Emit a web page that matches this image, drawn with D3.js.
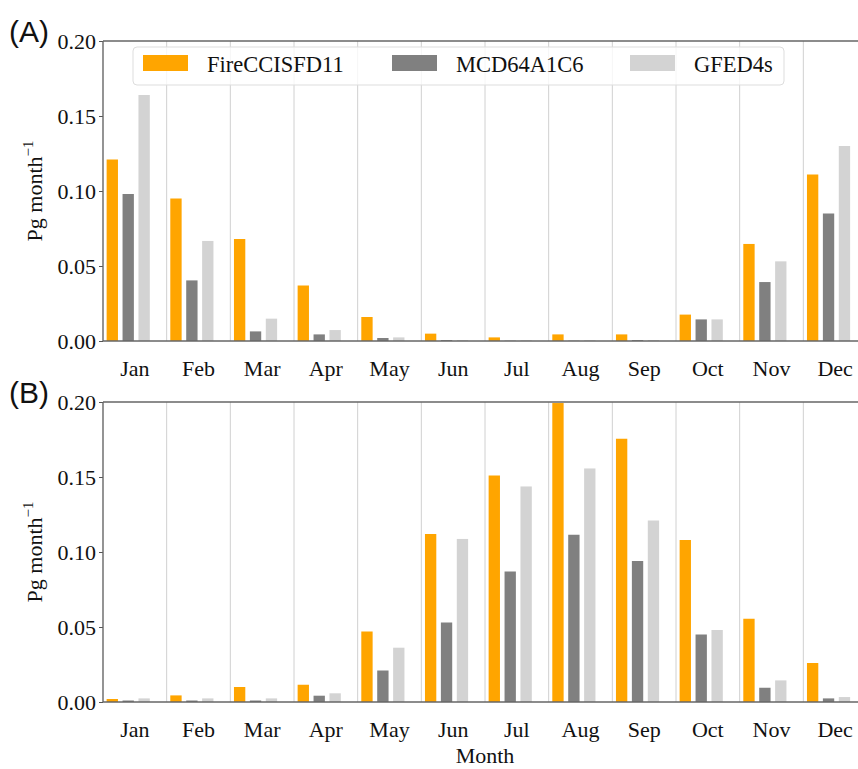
<!DOCTYPE html>
<html><head><meta charset="utf-8">
<script src="https://cdn.jsdelivr.net/npm/d3@7"></script>
<style>body{margin:0;background:#fff;overflow:hidden}svg{display:block}</style>
</head><body>
<svg id="c" width="858" height="769"></svg>
<script>
const months = ["Jan","Feb","Mar","Apr","May","Jun","Jul","Aug","Sep","Oct","Nov","Dec"];
const seriesNames = ["FireCCISFD11","MCD64A1C6","GFED4s"];
const yTicks = [0, 0.05, 0.10, 0.15, 0.20];

// Panel A
const aFire = [0.121, 0.095, 0.068, 0.037, 0.016, 0.0049, 0.0024, 0.0044, 0.0044, 0.0176, 0.0647, 0.111];
const aMcd  = [0.098, 0.0404, 0.0064, 0.0044, 0.002, 0.0006, 0.0002, 0.0002, 0.0006, 0.0144, 0.0393, 0.085];
const aGfed = [0.164, 0.0667, 0.0149, 0.0073, 0.0024, 0.0006, 0.0005, 0.0005, 0.0006, 0.0144, 0.0531, 0.130];
// Panel B
const bFire = [0.002, 0.0044, 0.010, 0.0115, 0.047, 0.112, 0.151, 0.1993, 0.1755, 0.108, 0.0555, 0.026];
const bMcd  = [0.001, 0.001, 0.001, 0.0042, 0.021, 0.053, 0.087, 0.1115, 0.094, 0.045, 0.0095, 0.0024];
const bGfed = [0.0024, 0.0024, 0.0024, 0.0058, 0.0362, 0.1087, 0.1437, 0.1557, 0.121, 0.048, 0.0144, 0.0033];

const colors = ["#FFA500", "#808080", "#D3D3D3"];
const serif = "Liberation Serif";
const sans = "Liberation Sans";
const FS = 22;

const svg = d3.select("#c");
const x = d3.scaleBand().domain(months).range([103, 867]).padding(0);
const bw = x.bandwidth();

function panel(top, bottom, data, label) {
  const y = d3.scaleLinear().domain([0, 0.2]).range([bottom, top]);
  const g = svg.append("g");
  const bounds = months.map(m => x(m)).concat([x.range()[1]]);
  g.selectAll("line.grid").data(bounds).enter().append("line")
    .attr("x1", d => d).attr("x2", d => d).attr("y1", top).attr("y2", bottom)
    .attr("stroke", "#d0d0d0").attr("stroke-width", 1);
  data.forEach((vals, i) => {
    g.selectAll("rect.s" + i).data(vals).enter().append("rect")
      .attr("x", (d, j) => x(months[j]) + bw * (0.057 + i * 0.25))
      .attr("width", bw * 0.178)
      .attr("y", d => y(d))
      .attr("height", d => bottom - y(d))
      .attr("fill", colors[i]);
  });
  const ya = d3.axisLeft(y).tickValues(yTicks).tickFormat(d3.format(".2f")).tickSize(4).tickPadding(3);
  const yg = g.append("g").attr("transform", "translate(103,0)").call(ya);
  yg.attr("font-family", null).attr("font-size", null);
  yg.select(".domain").remove();
  yg.selectAll(".tick line").attr("stroke", "#555");
  yg.selectAll(".tick text").style("font-family", serif).style("font-size", FS + "px").attr("fill", "#111");
  const xa = d3.axisBottom(x).tickSize(0).tickPadding(19);
  const xg = g.append("g").attr("transform", `translate(0,${bottom})`).call(xa);
  xg.attr("font-family", null).attr("font-size", null);
  xg.select(".domain").remove();
  xg.selectAll(".tick text").style("font-family", serif).style("font-size", FS + "px").attr("fill", "#111");
  g.append("line").attr("x1", 103).attr("x2", 870).attr("y1", top).attr("y2", top).attr("stroke", "#666").attr("stroke-width", 1.3);
  g.append("line").attr("x1", 103).attr("x2", 870).attr("y1", bottom).attr("y2", bottom).attr("stroke", "#666").attr("stroke-width", 1.3);
  g.append("line").attr("x1", 103).attr("x2", 103).attr("y1", top).attr("y2", bottom).attr("stroke", "#666").attr("stroke-width", 1.3);
  const cy = (top + bottom) / 2;
  const t = g.append("text").attr("transform", `translate(42,${cy}) rotate(-90)`)
    .attr("text-anchor", "middle").style("font-family", serif).style("font-size", FS + "px").attr("fill", "#111");
  t.append("tspan").text("Pg month");
  t.append("tspan").text("\u22121").style("font-size", "15px").attr("dy", -9);
  svg.append("text").attr("x", 9).attr("y", top + 0.5).style("font-family", sans).style("font-size", "30px").attr("fill", "#111").text(label);
  return y;
}

panel(41, 341, [aFire, aMcd, aGfed], "(A)");
panel(402, 702, [bFire, bMcd, bGfed], "(B)");

svg.append("text").attr("x", 485).attr("y", 763).attr("text-anchor", "middle")
  .style("font-family", serif).style("font-size", FS + "px").attr("fill", "#111").text("Month");

const lg = svg.append("g");
lg.append("rect").attr("x", 133).attr("y", 47).attr("width", 651).attr("height", 38).attr("rx", 4)
  .attr("fill", "#fff").attr("fill-opacity", 0.8).attr("stroke", "#ddd").attr("stroke-width", 1);
const patchX = [143, 392, 630];
const textX = [207, 456, 694];
seriesNames.forEach((n, i) => {
  lg.append("rect").attr("x", patchX[i]).attr("y", 55).attr("width", 45).attr("height", 16).attr("fill", colors[i]);
  lg.append("text").attr("x", textX[i]).attr("y", 72).style("font-family", serif).style("font-size", "22.5px").attr("fill", "#111").text(n);
});
</script>
</body></html>
